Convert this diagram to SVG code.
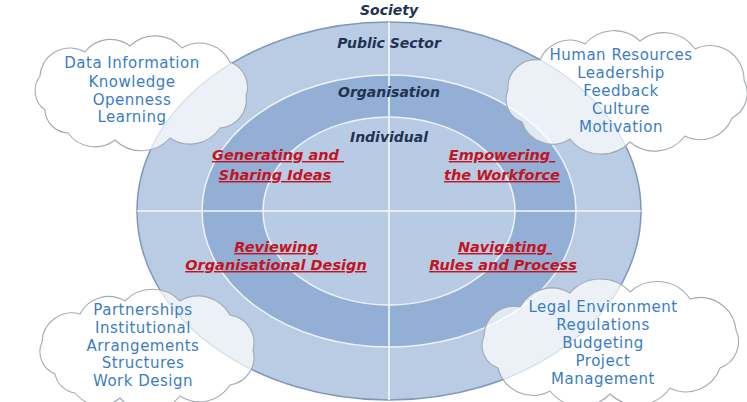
<svg xmlns="http://www.w3.org/2000/svg" width="747" height="402" viewBox="0 0 747 402">
<defs>
<style>
.bg{fill:#ffffff}
.outer{fill:#b9cce4;stroke:#7f97ba;stroke-width:1.5}
.middle{fill:#93afd5;stroke:#eef3fa;stroke-width:1.5}
.inner{fill:#b8cbe4;stroke:#eef3fa;stroke-width:1.5}
.axis{stroke:#f4f7fb;stroke-width:1.6}
.cloud{fill:#ffffff;fill-opacity:0.72;stroke:#a2aab3;stroke-width:1.1}
.ct{font-family:"DejaVu Sans",sans-serif;font-size:15px;letter-spacing:0.5px;fill:#3b7dc4;text-anchor:middle}
.lvl{font-family:"DejaVu Sans",sans-serif;font-size:14px;font-weight:bold;font-style:italic;fill:#233253;text-anchor:middle}
.act{font-family:"DejaVu Sans",sans-serif;font-size:14.5px;font-weight:bold;font-style:italic;fill:#c3141f;text-anchor:middle;text-decoration:underline}
</style>
</defs>
<rect class="bg" x="0" y="0" width="747" height="402"/>
<g id="rings">
<ellipse id="ring-public-sector" class="outer" cx="389" cy="211" rx="252" ry="189"/>
<ellipse id="ring-organisation" class="middle" cx="389" cy="211" rx="187" ry="136"/>
<ellipse id="ring-individual" class="inner" cx="389" cy="211" rx="126" ry="94"/>
</g>
<g id="connectors">
<line class="axis" x1="389" y1="22" x2="389" y2="400"/>
<line class="axis" x1="137" y1="211" x2="641" y2="211"/>
</g>
<g id="level-labels">
<text class="lvl" x="389" y="15">Society</text>
<text class="lvl" x="389" y="48">Public Sector</text>
<text class="lvl" x="389" y="97">Organisation</text>
<text class="lvl" x="389" y="142">Individual</text>
</g>
<g id="quadrant-generating">
<text class="act" x="278" y="160">Generating and&#160;</text>
<text class="act" x="275" y="180">Sharing Ideas</text>
</g>
<g id="quadrant-empowering">
<text class="act" x="502" y="160">Empowering&#160;</text>
<text class="act" x="502" y="180">the Workforce</text>
</g>
<g id="quadrant-reviewing">
<text class="act" x="276" y="252">Reviewing</text>
<text class="act" x="276" y="270">Organisational Design</text>
</g>
<g id="quadrant-navigating">
<text class="act" x="505" y="252">Navigating&#160;</text>
<text class="act" x="503" y="270">Rules and Process</text>
</g>
<g id="cloud-top-left">
<path class="cloud" d="M45,110 A24,24 0 0 1 40,76 A30,30 0 0 1 85,52 A32,32 0 0 1 130,46 A36,36 0 0 1 182,48 A34,34 0 0 1 230,62 A27,27 0 0 1 246,96 A28,28 0 0 1 220,128 A36,36 0 0 1 170,138 A38,38 0 0 1 115,140 A33,33 0 0 1 68,133 A24,24 0 0 1 45,110 Z"/>
<text class="ct" x="132" y="68">Data Information</text>
<text class="ct" x="132" y="87">Knowledge</text>
<text class="ct" x="132" y="105">Openness</text>
<text class="ct" x="132" y="122">Learning</text>
</g>
<g id="cloud-top-right">
<path class="cloud" d="M522,122 A24,24 0 0 1 508,90 A28,28 0 0 1 540,60 A32,32 0 0 1 585,44 A38,38 0 0 1 640,41 A38,38 0 0 1 695,49 A34,34 0 0 1 744,80 A28,28 0 0 1 732,118 A34,34 0 0 1 685,136 A38,38 0 0 1 630,142 A40,40 0 0 1 570,139 A32,32 0 0 1 522,122 Z"/>
<text class="ct" x="621" y="60">Human Resources</text>
<text class="ct" x="621" y="78">Leadership</text>
<text class="ct" x="621" y="96">Feedback</text>
<text class="ct" x="621" y="114">Culture</text>
<text class="ct" x="621" y="132">Motivation</text>
</g>
<g id="cloud-bottom-left">
<path class="cloud" d="M55,374 A24,24 0 0 1 42,342 A30,30 0 0 1 80,314 A32,32 0 0 1 125,301 A38,38 0 0 1 180,301 A36,36 0 0 1 230,315 A28,28 0 0 1 253,350 A28,28 0 0 1 230,385 A36,36 0 0 1 180,396 A40,40 0 0 1 120,398 A32,32 0 0 1 75,393 A24,24 0 0 1 55,374 Z"/>
<text class="ct" x="143" y="315">Partnerships</text>
<text class="ct" x="143" y="333">Institutional</text>
<text class="ct" x="143" y="351">Arrangements</text>
<text class="ct" x="143" y="368">Structures</text>
<text class="ct" x="143" y="386">Work Design</text>
</g>
<g id="cloud-bottom-right">
<path class="cloud" d="M498,368 A24,24 0 0 1 484,336 A30,30 0 0 1 520,307 A36,36 0 0 1 570,293 A40,40 0 0 1 630,292 A40,40 0 0 1 690,299 A36,36 0 0 1 736,330 A28,28 0 0 1 720,368 A36,36 0 0 1 670,388 A40,40 0 0 1 610,394 A40,40 0 0 1 550,391 A36,36 0 0 1 498,368 Z"/>
<text class="ct" x="603" y="312">Legal Environment</text>
<text class="ct" x="603" y="330">Regulations</text>
<text class="ct" x="603" y="348">Budgeting</text>
<text class="ct" x="603" y="366">Project</text>
<text class="ct" x="603" y="384">Management</text>
</g>
</svg>
